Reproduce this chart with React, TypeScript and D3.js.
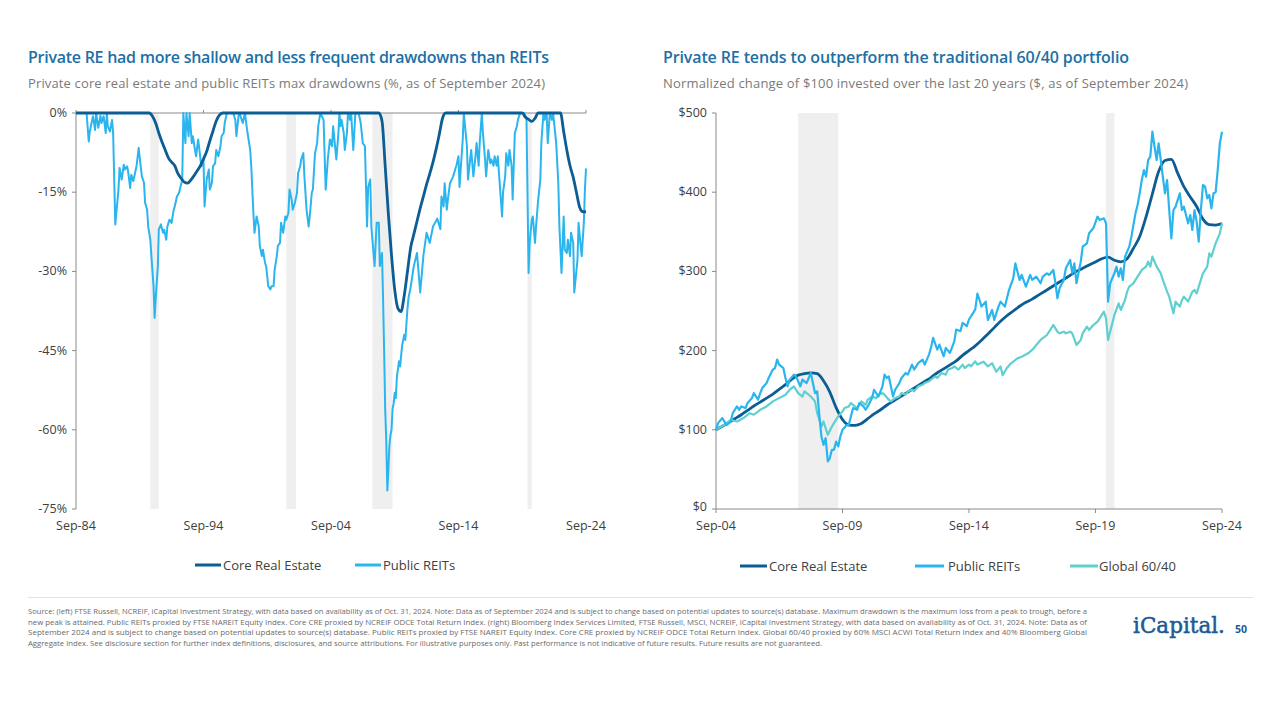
import React from "react";
import * as d3 from "d3";

type Pt = [string, number];

const leftYTicks = [0, -15, -30, -45, -60, -75];
const leftXTicks = ["1984-09", "1994-09", "2004-09", "2014-09", "2024-09"];
const rightYTicks = [0, 100, 200, 300, 400, 500];
const rightXTicks = ["2004-09", "2009-09", "2014-09", "2019-09", "2024-09"];
const leftRecessions: [string, string][] = [["1990-07", "1991-03"], ["2001-03", "2001-12"], ["2007-12", "2009-07"], ["2020-02", "2020-06"]];
const rightRecessions: [string, string][] = [["2007-12", "2009-07"], ["2020-02", "2020-06"]];

const leftCore: Pt[] = [["1984-09",0],["1990-06",0],["1990-09",-0.6],["1990-12",-1.9],["1991-03",-3.8],["1991-06",-5.5],["1991-09",-7],["1991-12",-8.5],["1992-03",-9.3],["1992-06",-10],["1992-09",-11.5],["1992-12",-12.4],["1993-03",-13.1],["1993-06",-13.3],["1993-09",-12.7],["1993-12",-11.9],["1994-03",-11],["1994-06",-10],["1994-09",-8.7],["1994-12",-7.3],["1995-03",-5.3],["1995-06",-3.4],["1995-09",-1.5],["1995-12",-0.4],["1996-03",0],["2008-06",0],["2008-09",-1.5],["2008-12",-10],["2009-03",-19],["2009-06",-27],["2009-09",-33.5],["2009-12",-37],["2010-03",-37.6],["2010-06",-34.5],["2010-09",-30],["2010-12",-25.5],["2011-03",-23],["2011-06",-20.5],["2011-09",-18],["2011-12",-15.8],["2012-03",-13.5],["2012-06",-11.5],["2012-09",-9.3],["2012-12",-6.8],["2013-03",-4],["2013-06",-1],["2013-09",0],["2019-09",0],["2019-12",-0.8],["2020-03",-1.2],["2020-06",-1.6],["2020-09",-1.0],["2020-12",0],["2022-09",0],["2022-12",-3.5],["2023-03",-7],["2023-06",-10],["2023-09",-12.2],["2023-12",-15],["2024-03",-17.8],["2024-06",-18.7],["2024-09",-18.7]];

const leftReits: Pt[] = [["1984-09",0],["1985-07",0],["1985-09",-5.4],["1985-10",-3.5],["1986-01",-0.6],["1986-03",-3.2],["1986-04",0],["1986-06",-2.8],["1986-08",-0.5],["1986-09",-1.9],["1986-11",-0.6],["1987-01",-3.8],["1987-02",0],["1987-03",-2.5],["1987-05",-3.5],["1987-07",-1.3],["1987-08",-3.8],["1987-10",-21.1],["1988-01",-14.5],["1988-02",-10.4],["1988-04",-12.6],["1988-06",-9.8],["1988-07",-10.7],["1988-09",-10.1],["1988-10",-11],["1988-12",-14.2],["1989-01",-11.7],["1989-03",-12.9],["1989-05",-11],["1989-06",-10.1],["1989-08",-6.6],["1989-09",-8.5],["1989-11",-12],["1990-01",-13.2],["1990-02",-17],["1990-04",-18.3],["1990-05",-21.5],["1990-07",-24],["1990-08",-27.1],["1990-10",-32.8],["1990-11",-38.8],["1990-12",-35.3],["1991-02",-29],["1991-03",-22.1],["1991-05",-21.1],["1991-07",-22.7],["1991-08",-22.1],["1991-10",-24],["1991-11",-21.5],["1992-01",-20.2],["1992-03",-20.8],["1992-05",-18.3],["1992-06",-17.7],["1992-08",-15.8],["1992-10",-15.1],["1993-01",-12.6],["1993-02",0],["1993-04",-5.7],["1993-05",0],["1993-07",-4.4],["1993-08",0],["1993-10",-5.7],["1993-11",-4.4],["1994-01",-7],["1994-02",-8.2],["1994-04",-5],["1994-05",-6.6],["1994-07",-10.1],["1994-09",-8.8],["1994-10",-17.7],["1994-12",-12.6],["1995-02",-10.7],["1995-03",-14.5],["1995-05",-13.2],["1995-06",-10.1],["1995-08",-9.5],["1995-09",-7],["1995-11",-8.2],["1996-01",-6.3],["1996-02",-4.4],["1996-04",-3.8],["1996-05",-1.9],["1996-07",0],["1997-01",0],["1997-03",-1.3],["1997-04",-4.4],["1997-06",-0.6],["1997-07",0],["1997-09",-1.3],["1997-10",-1.9],["1997-12",0],["1998-02",-3.2],["1998-03",-4.4],["1998-05",-7],["1998-06",-10.1],["1998-08",-19],["1998-09",-22.7],["1998-11",-19.6],["1999-01",-21.5],["1999-02",-25.2],["1999-04",-27.1],["1999-05",-25.9],["1999-07",-28.4],["1999-08",-29],["1999-10",-32.8],["1999-12",-33.4],["2000-01",-32.8],["2000-03",-32.8],["2000-04",-29.7],["2000-06",-27.1],["2000-07",-25.2],["2000-09",-24.6],["2000-10",-20.8],["2000-12",-22.7],["2001-02",-19.6],["2001-03",-20.2],["2001-05",-18.9],["2001-06",-14.5],["2001-08",-16.4],["2001-09",-18.3],["2001-11",-17],["2002-01",-15.1],["2002-02",-11.4],["2002-04",-10.1],["2002-05",-8.8],["2002-07",-7.6],["2002-08",-12],["2002-10",-18.3],["2002-12",-21.5],["2003-01",-19.6],["2003-03",-15.1],["2003-04",-14.5],["2003-06",-7.6],["2003-08",-5.7],["2003-09",-2.5],["2003-11",0],["2004-02",-1.3],["2004-04",-14.5],["2004-06",-8.8],["2004-08",-5],["2004-10",-6.3],["2004-11",-2.5],["2005-02",-8.8],["2005-04",-3.8],["2005-05",0],["2005-06",-2.5],["2005-07",-1.3],["2005-09",-3.8],["2005-10",-7],["2005-12",-3.8],["2006-01",0],["2006-03",-1.3],["2006-04",0],["2006-06",-7],["2006-08",0],["2006-11",0],["2007-01",-1.9],["2007-03",-5.7],["2007-05",-6.3],["2007-07",-21.5],["2007-08",-14],["2007-10",-12.6],["2007-11",-21.5],["2008-01",-26.5],["2008-02",-29],["2008-04",-20.8],["2008-06",-20.8],["2008-07",-29],["2008-09",-26.5],["2008-10",-35],["2008-11",-45],["2008-12",-56],["2009-01",-62],["2009-02",-71.5],["2009-03",-68],["2009-04",-63],["2009-05",-61],["2009-06",-60],["2009-07",-56],["2009-08",-55],["2009-09",-53],["2009-10",-54],["2009-11",-50],["2010-01",-47],["2010-02",-48],["2010-04",-44],["2010-06",-42],["2010-07",-43],["2010-09",-37],["2010-10",-35],["2010-12",-33],["2011-03",-29],["2011-06",-26.5],["2011-09",-34],["2011-12",-27],["2012-03",-22.7],["2012-06",-24.6],["2012-09",-21.5],["2013-01",-20],["2013-04",-22],["2013-05",-15.8],["2013-07",-17.7],["2013-08",-13.3],["2013-10",-18.3],["2013-11",-16.4],["2014-01",-13.3],["2014-04",-12],["2014-07",-10],["2014-09",-8.2],["2014-10",-14],["2015-01",-5],["2015-02",0],["2015-05",-6.3],["2015-06",-12.6],["2015-08",-8.8],["2015-09",-7],["2015-11",-12],["2016-01",-8.2],["2016-02",-5.7],["2016-04",-10],["2016-05",-5.7],["2016-07",0],["2016-08",-3.8],["2016-10",-8.8],["2016-11",-12],["2017-01",-7],["2017-03",-9.5],["2017-04",-8.8],["2017-06",-10],["2017-07",-8.2],["2017-09",-10],["2017-10",-8.2],["2017-12",-13.9],["2018-02",-19.6],["2018-03",-15],["2018-05",-12],["2018-06",-7.6],["2018-08",-10],["2018-09",-7],["2018-11",-10],["2018-12",-16.4],["2019-02",-3.8],["2019-04",-2.5],["2019-05",-1.3],["2019-07",0],["2019-11",0],["2020-01",-1],["2020-03",-30.3],["2020-04",-24.6],["2020-06",-20.2],["2020-07",-19.6],["2020-09",-24.6],["2020-10",-21.5],["2020-12",-16.4],["2021-02",-12.6],["2021-03",-5.7],["2021-05",0],["2021-06",-1.3],["2021-08",0],["2021-09",-5.7],["2021-11",0],["2022-01",-1.3],["2022-02",0],["2022-05",-5.7],["2022-07",-13.3],["2022-08",-21.5],["2022-10",-30.3],["2022-12",-19.6],["2023-01",-25.9],["2023-03",-26.5],["2023-04",-24],["2023-06",-27.1],["2023-07",-22.7],["2023-09",-24.6],["2023-10",-34],["2024-01",-27.8],["2024-02",-20.8],["2024-04",-25.2],["2024-05",-27.1],["2024-07",-20.8],["2024-08",-14.5],["2024-09",-10.5]];

const rightCore: Pt[] = [["2004-09",100],["2004-12",104.5],["2005-03",109],["2005-06",114],["2005-09",119],["2005-12",124.5],["2006-03",130],["2006-06",135],["2006-09",140],["2006-12",145],["2007-03",151],["2007-06",157],["2007-09",164],["2007-12",169],["2008-03",171],["2008-06",172],["2008-09",171],["2008-12",162],["2009-03",148],["2009-06",128],["2009-09",113],["2009-12",106],["2010-03",105.5],["2010-06",108],["2010-09",114],["2010-12",120],["2011-03",125],["2011-06",131],["2011-09",136],["2011-12",141],["2012-03",146],["2012-06",151],["2012-09",156],["2012-12",161],["2013-03",166],["2013-06",172],["2013-09",177],["2013-12",182],["2014-03",187],["2014-06",194],["2014-09",200],["2014-12",206],["2015-03",213],["2015-06",221],["2015-09",229],["2015-12",237],["2016-03",244],["2016-06",250],["2016-09",256],["2016-12",261],["2017-03",265],["2017-06",270],["2017-09",275],["2017-12",280],["2018-03",285],["2018-06",290],["2018-09",295],["2018-12",300],["2019-03",304],["2019-06",308],["2019-09",312],["2019-12",316],["2020-03",318],["2020-06",314],["2020-09",312],["2020-12",316],["2021-03",329],["2021-06",344],["2021-09",369],["2021-12",398],["2022-03",426],["2022-06",440],["2022-09",441.5],["2022-12",424],["2023-03",407],["2023-06",394],["2023-09",382],["2023-12",366],["2024-03",359],["2024-06",358.5],["2024-09",360.5]];

const rightReits: Pt[] = [["2004-09",100],["2004-10",108.4],["2004-12",114.8],["2005-02",106],["2005-04",110.5],["2005-05",121],["2005-07",129.5],["2005-08",125.3],["2005-09",129.5],["2005-11",127.4],["2005-12",133.8],["2006-02",140],["2006-03",146.4],["2006-05",138],["2006-06",146.4],["2006-07",152.7],["2006-09",159],["2006-10",165.4],["2006-12",176],["2007-01",178],["2007-02",188.6],["2007-03",182.3],["2007-04",180.2],["2007-05",178],["2007-06",165.4],["2007-07",154.9],["2007-08",163.3],["2007-10",169.6],["2007-11",167.5],["2008-01",154.9],["2008-02",163.3],["2008-04",159],["2008-06",171.7],["2008-07",159],["2008-08",146.4],["2008-09",148.5],["2008-10",119],["2008-11",91.6],["2008-12",81],["2009-01",89.4],["2009-02",60],["2009-03",64],["2009-04",74.7],["2009-05",74.7],["2009-06",85],["2009-07",79],["2009-08",91.6],["2009-09",100],["2009-10",103],["2009-11",106],["2009-12",106],["2010-01",117],["2010-02",127.4],["2010-04",125.3],["2010-05",133.8],["2010-07",129.5],["2010-08",125.3],["2010-09",129.5],["2010-11",140],["2010-12",150.6],["2011-02",142],["2011-04",154.9],["2011-05",169.6],["2011-06",165.4],["2011-07",167.5],["2011-09",142],["2011-10",150.6],["2011-12",159],["2012-01",165.4],["2012-03",171.7],["2012-04",169.6],["2012-06",182.3],["2012-07",176],["2012-09",184.4],["2012-11",188.6],["2012-12",182.3],["2013-02",195],["2013-03",203.4],["2013-04",216],["2013-06",201.3],["2013-07",207.6],["2013-09",192.8],["2013-10",203.4],["2013-12",197],["2014-02",211.8],["2014-03",226.6],["2014-05",224.5],["2014-06",235],["2014-08",230.8],["2014-09",239.3],["2014-11",247.7],["2014-12",252],["2015-01",272],["2015-02",263.9],["2015-03",255.5],["2015-05",261.8],["2015-06",238.6],["2015-08",251.3],["2015-09",238.6],["2015-11",255.5],["2015-12",261.8],["2016-02",255.5],["2016-04",276.5],["2016-06",291.3],["2016-07",310.2],["2016-09",289.2],["2016-10",295.5],["2016-12",280.7],["2017-02",295.5],["2017-03",289.2],["2017-05",293.4],["2017-07",285],["2017-08",293.4],["2017-10",297.6],["2017-11",295.5],["2018-01",301.8],["2018-02",285],["2018-03",266],["2018-04",278.6],["2018-06",289.2],["2018-07",303.9],["2018-09",314.4],["2018-10",297.6],["2018-11",310.2],["2018-12",285],["2019-02",312.3],["2019-03",331.2],["2019-05",335.4],["2019-06",348.1],["2019-08",354.4],["2019-10",369.1],["2019-11",364.9],["2020-01",367],["2020-02",360.7],["2020-03",261.8],["2020-04",285],["2020-06",297.6],["2020-07",306],["2020-08",293.4],["2020-09",303.9],["2020-10",289.2],["2020-11",318.6],["2021-01",331.2],["2021-02",343.9],["2021-04",373.3],["2021-05",383.8],["2021-06",398.6],["2021-07",415.4],["2021-08",428],["2021-09",419.6],["2021-10",440.7],["2021-11",445],["2021-12",476.4],["2022-01",457.5],["2022-02",440.7],["2022-03",461.7],["2022-04",440.7],["2022-05",419.6],["2022-06",398.6],["2022-07",415.4],["2022-08",377.5],["2022-09",341.8],["2022-10",377.5],["2022-11",381.7],["2023-01",398.6],["2023-02",377.5],["2023-03",381.7],["2023-05",360.7],["2023-06",371.2],["2023-07",352.3],["2023-08",377.5],["2023-09",362.8],["2023-10",337.5],["2023-11",377.5],["2023-12",409.1],["2024-01",407],["2024-02",392.3],["2024-03",396.5],["2024-04",379.6],["2024-05",398.6],["2024-06",400],["2024-07",428],["2024-08",461.7],["2024-09",476.4]];

const rightGlobal: Pt[] = [["2004-09",100],["2005-01",106.3],["2005-04",112.7],["2005-07",110.5],["2005-10",114.8],["2006-01",121],["2006-03",119],["2006-06",125.3],["2006-09",129.5],["2006-12",135.9],["2007-03",140],["2007-06",144.3],["2007-08",150.6],["2007-10",154.9],["2007-12",146.4],["2008-02",142],["2008-03",148.5],["2008-05",144.3],["2008-06",142],["2008-08",135.9],["2008-09",121],["2008-11",104.2],["2008-12",110.5],["2009-01",102.1],["2009-02",93.7],["2009-04",104.2],["2009-05",108.4],["2009-07",117],["2009-09",123.2],["2009-10",127.4],["2009-12",129.5],["2010-01",133.8],["2010-03",129.5],["2010-04",127.4],["2010-06",135.9],["2010-08",131.6],["2010-09",138],["2010-11",142],["2011-01",140],["2011-02",144.3],["2011-04",146.4],["2011-05",144.3],["2011-07",138],["2011-08",135.9],["2011-10",140],["2011-12",142],["2012-01",146.4],["2012-03",144.3],["2012-04",148.5],["2012-06",150.6],["2012-07",148.5],["2012-09",154.9],["2012-11",157],["2012-12",159],["2013-02",161.2],["2013-03",163.3],["2013-05",167.5],["2013-06",165.4],["2013-08",171.7],["2013-10",169.6],["2013-11",176],["2014-01",178],["2014-02",180.2],["2014-04",176],["2014-06",182.3],["2014-07",178],["2014-09",182.3],["2014-10",180.2],["2014-12",186.5],["2015-01",182.3],["2015-04",186],["2015-06",180],["2015-08",184],["2015-10",173.4],["2015-12",180],["2016-01",169],["2016-03",178],["2016-05",184],["2016-08",190.2],["2016-10",192.3],["2017-01",196.6],["2017-03",200.8],["2017-05",207.1],["2017-07",213.4],["2017-10",219.7],["2017-11",223.9],["2018-01",232.3],["2018-03",223.9],["2018-04",221.8],["2018-06",223.9],["2018-07",221.8],["2018-09",223.9],["2018-10",221.8],["2018-12",207.1],["2019-02",213.4],["2019-03",221.8],["2019-05",230.2],["2019-06",226],["2019-08",232.3],["2019-10",236.5],["2019-11",240.7],["2020-01",249.1],["2020-02",240.7],["2020-03",213.4],["2020-05",234.4],["2020-06",245],["2020-08",259.7],["2020-09",251.3],["2020-11",263.9],["2020-12",274.4],["2021-01",280.7],["2021-03",284.9],["2021-05",293.4],["2021-06",297.6],["2021-07",301.8],["2021-09",306],["2021-10",312.3],["2021-11",306],["2021-12",318.6],["2022-02",306],["2022-04",297.6],["2022-05",289.2],["2022-07",274.4],["2022-08",268.1],["2022-10",247],["2022-11",261.8],["2023-01",255.5],["2023-02",263.9],["2023-03",268.1],["2023-05",261.8],["2023-07",274.4],["2023-08",276.5],["2023-09",272.3],["2023-11",289.2],["2023-12",297.6],["2024-02",306],["2024-03",322.8],["2024-04",318.6],["2024-05",327],["2024-06",335.4],["2024-08",348.1],["2024-09",360.7]];

const footnoteLines = [
  "Source: (left) FTSE Russell, NCREIF, iCapital Investment Strategy, with data based on availability as of Oct. 31, 2024. Note: Data as of September 2024 and is subject to change based on potential updates to source(s) database. Maximum drawdown is the maximum loss from a peak to trough, before a",
  "new peak is attained. Public REITs proxied by FTSE NAREIT Equity Index. Core CRE proxied by NCREIF ODCE Total Return Index. (right) Bloomberg Index Services Limited, FTSE Russell, MSCI, NCREIF, iCapital Investment Strategy, with data based on availability as of Oct. 31, 2024. Note: Data as of",
  "September 2024 and is subject to change based on potential updates to source(s) database. Public REITs proxied by FTSE NAREIT Equity Index. Core CRE proxied by NCREIF ODCE Total Return Index. Global 60/40 proxied by 60% MSCI ACWI Total Return Index and 40% Bloomberg Global",
  "Aggregate Index. See disclosure section for further index definitions, disclosures, and source attributions. For illustrative purposes only. Past performance is not indicative of future results. Future results are not guaranteed.",
];

const C_CORE = "#0b5d93";
const C_REIT = "#2bb5ee";
const C_GLOBAL = "#5fcfd0";
const C_TITLE = "#1d6fa6";
const FONT = "'Open Sans', 'Noto Sans', sans-serif";
const AXIS = "#8a8a8a";

export default function App() {
  const parse = d3.timeParse("%Y-%m") as (s: string) => Date;
  const fmt = d3.timeFormat("%b-%y");

  const lx = d3.scaleTime().domain([parse("1984-09"), parse("2024-09")]).range([76, 586]);
  const ly = d3.scaleLinear().domain([-75, 0]).range([509, 113]);
  const rx = d3.scaleTime().domain([parse("2004-09"), parse("2024-09")]).range([716, 1222]);
  const ry = d3.scaleLinear().domain([0, 500]).range([509, 113]);

  const lLine = d3.line<Pt>().x(d => lx(parse(d[0]))).y(d => ly(d[1]));
  const lLineSmooth = d3.line<Pt>().x(d => lx(parse(d[0]))).y(d => ly(d[1])).curve(d3.curveMonotoneX);
  const rLine = d3.line<Pt>().x(d => rx(parse(d[0]))).y(d => ry(d[1]));
  const rLineSmooth = d3.line<Pt>().x(d => rx(parse(d[0]))).y(d => ry(d[1])).curve(d3.curveMonotoneX);

  const textStyle = { fontFamily: FONT };
  const TICK_FS = 12.5;
  const XLAB_Y = 530;

  return (
    <svg width={1280} height={720} style={{ position: "absolute", left: 0, top: 0, background: "#fff" }}>
      <rect x={0} y={0} width={1280} height={720} fill="#fff" />

      {/* Titles */}
      <text x={28} y={63} fill={C_TITLE} fontSize={16} fontWeight={600} style={textStyle} textLength={521}>Private RE had more shallow and less frequent drawdowns than REITs</text>
      <text x={28} y={88} fill="#7a7a7a" fontSize={13} style={textStyle} textLength={517}>Private core real estate and public REITs max drawdowns (%, as of September 2024)</text>
      <text x={663} y={63} fill={C_TITLE} fontSize={16} fontWeight={600} style={textStyle} textLength={466}>Private RE tends to outperform the traditional 60/40 portfolio</text>
      <text x={663} y={88} fill="#7a7a7a" fontSize={13} style={textStyle} textLength={525}>Normalized change of $100 invested over the last 20 years ($, as of September 2024)</text>

      {/* LEFT CHART */}
      {leftRecessions.map(([a, b], i) => (
        <rect key={"lr" + i} x={lx(parse(a))} y={113} width={lx(parse(b)) - lx(parse(a))} height={396} fill="#efefef" />
      ))}
      <line x1={76} x2={76} y1={113} y2={509} stroke={AXIS} strokeWidth={1} />
      {leftYTicks.map(t => (
        <g key={"ly" + t}>
          <line x1={72} x2={76} y1={ly(t)} y2={ly(t)} stroke={AXIS} />
          <text x={67} y={ly(t)} dy="0.32em" textAnchor="end" fontSize={TICK_FS} fill="#404040" style={textStyle}>{t + "%"}</text>
        </g>
      ))}
      <line x1={76} x2={586} y1={113} y2={113} stroke={AXIS} strokeWidth={1} />
      {leftXTicks.map(t => (
        <g key={"lx" + t}>
          <line x1={lx(parse(t))} x2={lx(parse(t))} y1={110} y2={113} stroke={AXIS} />
          <text x={lx(parse(t))} y={XLAB_Y} textAnchor="middle" fontSize={TICK_FS} fill="#404040" style={textStyle}>{fmt(parse(t))}</text>
        </g>
      ))}
      <path d={lLine(leftReits) || ""} fill="none" stroke={C_REIT} strokeWidth={2} strokeLinejoin="round" />
      <path d={lLineSmooth(leftCore) || ""} fill="none" stroke={C_CORE} strokeWidth={2.8} strokeLinejoin="round" />

      {/* Left legend */}
      <line x1={195} x2={221} y1={565} y2={565} stroke={C_CORE} strokeWidth={3} />
      <text x={223} y={565} dy="0.35em" fontSize={13} fill="#404040" style={textStyle}>Core Real Estate</text>
      <line x1={355} x2={381} y1={565} y2={565} stroke={C_REIT} strokeWidth={3} />
      <text x={383} y={565} dy="0.35em" fontSize={13} fill="#404040" style={textStyle}>Public REITs</text>

      {/* RIGHT CHART */}
      {rightRecessions.map(([a, b], i) => (
        <rect key={"rr" + i} x={rx(parse(a))} y={113} width={rx(parse(b)) - rx(parse(a))} height={396} fill="#efefef" />
      ))}
      <line x1={716} x2={716} y1={113} y2={509} stroke={AXIS} strokeWidth={1} />
      {rightYTicks.map(t => (
        <g key={"ry" + t}>
          <line x1={712} x2={716} y1={ry(t)} y2={ry(t)} stroke={AXIS} />
          <text x={707} y={t === 0 ? ry(t) - 2 : ry(t)} dy="0.32em" textAnchor="end" fontSize={TICK_FS} fill="#404040" style={textStyle}>{"$" + t}</text>
        </g>
      ))}
      <line x1={716} x2={1222} y1={509} y2={509} stroke={AXIS} strokeWidth={1} />
      {rightXTicks.map(t => (
        <g key={"rx" + t}>
          <line x1={rx(parse(t))} x2={rx(parse(t))} y1={509} y2={513} stroke={AXIS} />
          <text x={rx(parse(t))} y={XLAB_Y} textAnchor="middle" fontSize={TICK_FS} fill="#404040" style={textStyle}>{fmt(parse(t))}</text>
        </g>
      ))}
      <path d={rLineSmooth(rightCore) || ""} fill="none" stroke={C_CORE} strokeWidth={2.8} strokeLinejoin="round" />
      <path d={rLine(rightGlobal) || ""} fill="none" stroke={C_GLOBAL} strokeWidth={2.2} strokeLinejoin="round" />
      <path d={rLine(rightReits) || ""} fill="none" stroke={C_REIT} strokeWidth={2.2} strokeLinejoin="round" />

      {/* Right legend */}
      <line x1={740} x2={767} y1={566} y2={566} stroke={C_CORE} strokeWidth={3} />
      <text x={769} y={566} dy="0.35em" fontSize={13} fill="#404040" style={textStyle}>Core Real Estate</text>
      <line x1={915} x2={944} y1={566} y2={566} stroke={C_REIT} strokeWidth={3} />
      <text x={948} y={566} dy="0.35em" fontSize={13} fill="#404040" style={textStyle}>Public REITs</text>
      <line x1={1070} x2={1098} y1={566} y2={566} stroke={C_GLOBAL} strokeWidth={3} />
      <text x={1099} y={566} dy="0.35em" fontSize={13} fill="#404040" style={textStyle}>Global 60/40</text>

      {/* Separator */}
      <line x1={28} x2={1253} y1={597.5} y2={597.5} stroke="#dde3e8" strokeWidth={1} />

      {/* Footnote */}
      {footnoteLines.map((l, i) => (
        <text key={"fn" + i} x={28} y={614 + i * 10.5} fontSize={7.7} fill="#6a6a6a" style={textStyle}
          textLength={i < 3 ? 1059 : undefined} lengthAdjust="spacingAndGlyphs">{l}</text>
      ))}

      {/* Logo */}
      <text x={1133} y={633} fontSize={21.5} fill="#1c5a94" stroke="#1c5a94" strokeWidth={0.5}
        style={{ fontFamily: "'DejaVu Serif', 'Liberation Serif', serif" }}>iCapital.</text>
      <text x={1235} y={633} fontSize={10.5} fontWeight={700} fill="#1c5a94" style={textStyle}>50</text>
    </svg>
  );
}
